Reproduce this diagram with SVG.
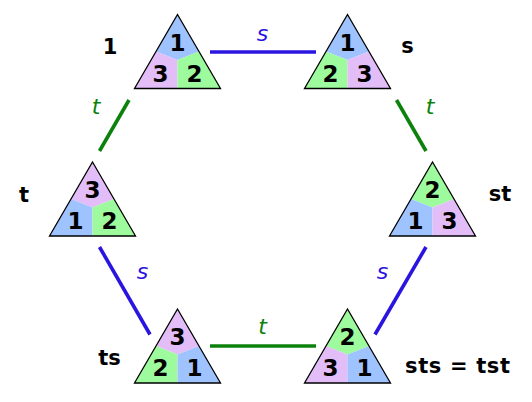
<svg xmlns="http://www.w3.org/2000/svg" width="532" height="402" viewBox="0 0 532 402">
<defs>
<style>
.b{fill:#9fc3ff}.g{fill:#9dfb9d}.p{fill:#e3bdf8}
.ol{fill:none;stroke:#000;stroke-width:1.3;stroke-linejoin:miter}
.d{font-family:"DejaVu Sans",sans-serif;font-weight:bold;font-size:23px;fill:#000;text-anchor:middle}
.lab{font-family:"DejaVu Sans",sans-serif;font-weight:bold;font-size:21px;fill:#000;text-anchor:middle}
.el{font-family:"DejaVu Sans",sans-serif;font-style:italic;font-size:22px;text-anchor:middle}
.es{stroke:#2a14e0;stroke-width:3.6;fill:none}
.et{stroke:#0c820c;stroke-width:3.6;fill:none}
</style>
<path id="top" d="M0,0 L21.5,37 L0,45.5 L-21.5,37 Z"/>
<path id="left" d="M-21.5,37 L0,45.5 L0,74 L-43,74 Z"/>
<path id="right" d="M21.5,37 L0,45.5 L0,74 L43,74 Z"/>
<path id="tri" d="M0,0 L43,74 L-43,74 Z"/>
</defs>
<rect width="532" height="402" fill="#fff"/>
<g id="connectors">
<line class="es" x1="210" y1="52" x2="316" y2="52"/>
<line class="et" x1="129" y1="100" x2="99.5" y2="151"/>
<line class="et" x1="396.5" y1="100" x2="426" y2="151"/>
<line class="es" x1="99.5" y1="247" x2="150" y2="334.5"/>
<line class="es" x1="426" y1="247" x2="375" y2="334.5"/>
<line class="et" x1="210" y1="346" x2="316" y2="346"/>
<text class="el" x="262.5" y="40.5" fill="#2a14e0">s</text>
<text class="el" x="96" y="113.5" fill="#0c820c">t</text>
<text class="el" x="430" y="113.5" fill="#0c820c">t</text>
<text class="el" x="142.5" y="279" fill="#2a14e0">s</text>
<text class="el" x="382.5" y="279" fill="#2a14e0">s</text>
<text class="el" x="262.5" y="334" fill="#0c820c">t</text>
</g>
<g id="n1" transform="translate(177.5,14.5)">
<use href="#top" class="b"/><use href="#left" class="p"/><use href="#right" class="g"/><use href="#tri" class="ol"/>
<text class="d" x="0" y="36">1</text><text class="d" x="-17" y="67">3</text><text class="d" x="17" y="67">2</text>
</g>
<g id="ns" transform="translate(347.5,14.5)">
<use href="#top" class="b"/><use href="#left" class="g"/><use href="#right" class="p"/><use href="#tri" class="ol"/>
<text class="d" x="0" y="36">1</text><text class="d" x="-17" y="67">2</text><text class="d" x="17" y="67">3</text>
</g>
<g id="nt" transform="translate(92.5,162)">
<use href="#top" class="p"/><use href="#left" class="b"/><use href="#right" class="g"/><use href="#tri" class="ol"/>
<text class="d" x="0" y="36">3</text><text class="d" x="-17" y="67">1</text><text class="d" x="17" y="67">2</text>
</g>
<g id="nst" transform="translate(432.5,162)">
<use href="#top" class="g"/><use href="#left" class="b"/><use href="#right" class="p"/><use href="#tri" class="ol"/>
<text class="d" x="0" y="36">2</text><text class="d" x="-17" y="67">1</text><text class="d" x="17" y="67">3</text>
</g>
<g id="nts" transform="translate(177.5,309)">
<use href="#top" class="p"/><use href="#left" class="g"/><use href="#right" class="b"/><use href="#tri" class="ol"/>
<text class="d" x="0" y="36">3</text><text class="d" x="-17" y="67">2</text><text class="d" x="17" y="67">1</text>
</g>
<g id="nsts" transform="translate(347.5,309)">
<use href="#top" class="g"/><use href="#left" class="p"/><use href="#right" class="b"/><use href="#tri" class="ol"/>
<text class="d" x="0" y="36">2</text><text class="d" x="-17" y="67">3</text><text class="d" x="17" y="67">1</text>
</g>
<g id="labels">
<text class="lab" x="110" y="54">1</text>
<text class="lab" x="407.5" y="53">s</text>
<text class="lab" x="24" y="202">t</text>
<text class="lab" x="500" y="201">st</text>
<text class="lab" x="109.5" y="365">ts</text>
<text class="lab" x="405" y="372.5" style="text-anchor:start" textLength="105" lengthAdjust="spacing">sts = tst</text>
</g>
</svg>
